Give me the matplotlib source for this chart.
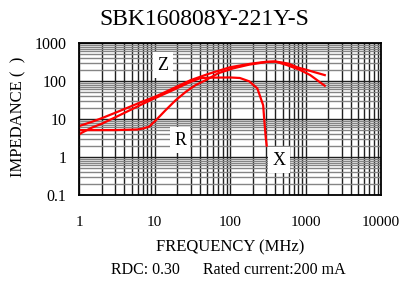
import numpy as np
import matplotlib.pyplot as plt
from matplotlib.ticker import FixedLocator, NullFormatter

plt.rcParams["font.family"] = ["Liberation Serif", "DejaVu Serif"]

# impedance |Z| (ohm) vs frequency (MHz)
z_freq = [1, 1.5, 2, 3, 5, 7, 10, 15, 20, 30, 50, 70, 100, 150, 200, 300, 400,
          500, 600, 800, 1000, 1300, 1800]
z_vals = [6.5, 8.5, 10.5, 14.5, 22, 29, 38, 55, 72, 105, 150, 185, 230, 265,
          290, 320, 325, 305, 285, 225, 200, 172, 143]

# resistance R
r_freq = [1, 3, 6, 7, 8.5, 10.5, 14, 19, 26, 35, 48, 70, 110, 180, 300, 400,
          565, 850, 1150, 1800]
r_vals = [5.1, 5.1, 5.3, 5.6, 6.3, 9.4, 17, 31, 52, 78, 106, 160, 215, 270,
          315, 325, 263, 195, 144, 75]

# reactance X
x_freq = [1, 1.1, 1.3, 1.5, 2, 3, 5, 7, 10, 15, 20, 30, 40, 50, 100, 135, 180,
          230, 250, 275, 285, 297, 306]
x_vals = [3.9, 4.4, 5.2, 6.0, 7.5, 11, 18, 25, 35, 50, 65, 95, 118, 122, 124,
          120, 98, 64, 40, 23, 9, 3.4, 2.0]

x_ticks = [1, 10, 100, 1000, 10000]
y_ticks = [0.1, 1, 10, 100, 1000]


def main():
    fig = plt.figure(figsize=(4.0, 2.82), dpi=100)
    ax = fig.add_axes([0.1975, 0.3085, 0.755, 0.539])
    ax.set_xscale("log")
    ax.set_yscale("log")
    ax.set_xlim(1, 10000)
    ax.set_ylim(0.1, 1000)

    minors_x = [m * 10.0 ** d for d in range(0, 4) for m in range(2, 10)]
    minors_y = [m * 10.0 ** d for d in range(-1, 3) for m in range(2, 10)]
    ax.xaxis.set_major_locator(FixedLocator(x_ticks))
    ax.yaxis.set_major_locator(FixedLocator(y_ticks))
    ax.xaxis.set_minor_locator(FixedLocator(minors_x))
    ax.yaxis.set_minor_locator(FixedLocator(minors_y))
    ax.xaxis.set_minor_formatter(NullFormatter())
    ax.yaxis.set_minor_formatter(NullFormatter())
    ax.set_xticklabels([f"{t:g}" for t in x_ticks])
    ax.set_yticklabels([f"{t:g}" for t in y_ticks])

    # grid: vertical all dark, horizontal minor grey
    for v in x_ticks + minors_x:
        ax.axvline(v, color="#202020", lw=1.0, zorder=1)
    for h in minors_y:
        ax.axhline(h, color="#858585", lw=1.0, zorder=1)
    for h in y_ticks:
        ax.axhline(h, color="#202020", lw=1.0, zorder=1)

    ax.tick_params(which="both", length=0)
    ax.tick_params(axis="x", pad=15, labelsize=11)
    ax.tick_params(axis="y", pad=9, labelsize=11.5)
    for s in ax.spines.values():
        s.set_linewidth(1.3)
        s.set_zorder(5)

    for fx, vals in [(z_freq, z_vals), (r_freq, r_vals), (x_freq, x_vals)]:
        ax.plot(fx, vals, color="red", lw=1.6, zorder=3)

    box = dict(facecolor="white", edgecolor="none", pad=3)
    ax.text(13, 263, "Z", fontsize=13, ha="center", va="center", bbox=box, zorder=4)
    ax.text(21.8, 2.8, "R", fontsize=13, ha="center", va="center", bbox=box, zorder=4)
    ax.text(446, 0.83, "X", fontsize=13, ha="center", va="center", bbox=box, zorder=4)

    fig.text(0.51, 0.93, "SBK160808Y-221Y-S", fontsize=17, ha="center", va="center")
    fig.text(0.575, 0.124, "FREQUENCY (MHz)", fontsize=12, ha="center", va="center")
    fig.text(0.045, 0.585, "IMPEDANCE (  )", fontsize=12, ha="center",
             va="center", rotation=90)
    fig.text(0.2775, 0.043, "RDC: 0.30", fontsize=11.5, ha="left", va="center")
    fig.text(0.5075, 0.043, "Rated current:200 mA", fontsize=11.5, ha="left",
             va="center")

    fig.savefig("out.png", dpi=100)


if __name__ == "__main__":
    main()
